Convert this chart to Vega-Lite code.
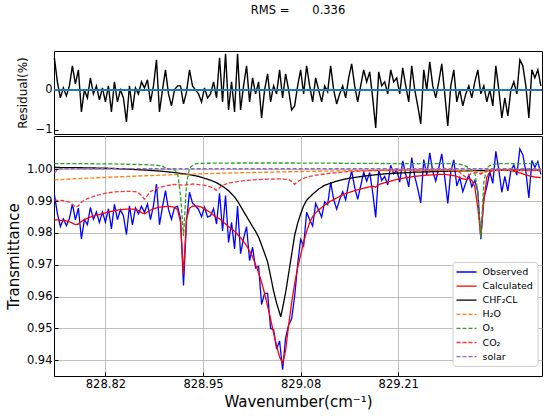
{
"$schema":"https://vega.github.io/schema/vega-lite/v6.json",
"padding":{"left":5,"right":5,"top":5,"bottom":5},
"title":{"text":"RMS =\u2003\u20030.336","font":"DejaVu Sans","fontSize":11.5,"fontWeight":"normal","color":"black","anchor":"middle","offset":34,"dx":23},
"datasets":{
"spec":[
{"wn":828.752,"obs":0.9921,"calc":0.9841,"res":0.8},
{"wn":828.756,"obs":0.9861,"calc":0.9841,"res":0.2},
{"wn":828.76,"obs":0.982,"calc":0.984,"res":-0.2},
{"wn":828.764,"obs":0.9844,"calc":0.9839,"res":0.05},
{"wn":828.768,"obs":0.9823,"calc":0.9838,"res":-0.15},
{"wn":828.772,"obs":0.9845,"calc":0.9835,"res":0.1},
{"wn":828.776,"obs":0.9891,"calc":0.9831,"res":0.6},
{"wn":828.78,"obs":0.9841,"calc":0.9826,"res":0.15},
{"wn":828.784,"obs":0.9878,"calc":0.9828,"res":0.5},
{"wn":828.788,"obs":0.9781,"calc":0.9836,"res":-0.55},
{"wn":828.792,"obs":0.9842,"calc":0.9842,"res":0},
{"wn":828.796,"obs":0.9826,"calc":0.9846,"res":-0.2},
{"wn":828.8,"obs":0.988,"calc":0.985,"res":0.3},
{"wn":828.804,"obs":0.9843,"calc":0.9853,"res":-0.1},
{"wn":828.808,"obs":0.9866,"calc":0.9856,"res":0.1},
{"wn":828.812,"obs":0.9833,"calc":0.9858,"res":-0.25},
{"wn":828.816,"obs":0.9866,"calc":0.9861,"res":0.05},
{"wn":828.82,"obs":0.9834,"calc":0.9864,"res":-0.3},
{"wn":828.824,"obs":0.9876,"calc":0.9866,"res":0.1},
{"wn":828.828,"obs":0.9813,"calc":0.9868,"res":-0.55},
{"wn":828.832,"obs":0.989,"calc":0.987,"res":0.2},
{"wn":828.836,"obs":0.9842,"calc":0.9872,"res":-0.3},
{"wn":828.84,"obs":0.9873,"calc":0.9873,"res":0},
{"wn":828.844,"obs":0.9854,"calc":0.9874,"res":-0.2},
{"wn":828.848,"obs":0.9795,"calc":0.9875,"res":-0.8},
{"wn":828.852,"obs":0.9885,"calc":0.9875,"res":0.1},
{"wn":828.856,"obs":0.9825,"calc":0.9875,"res":-0.5},
{"wn":828.86,"obs":0.9879,"calc":0.9874,"res":0.05},
{"wn":828.864,"obs":0.986,"calc":0.987,"res":-0.1},
{"wn":828.868,"obs":0.9884,"calc":0.9864,"res":0.2},
{"wn":828.872,"obs":0.9865,"calc":0.986,"res":0.05},
{"wn":828.876,"obs":0.9891,"calc":0.9866,"res":0.25},
{"wn":828.88,"obs":0.9842,"calc":0.9872,"res":-0.3},
{"wn":828.884,"obs":0.9886,"calc":0.9876,"res":0.1},
{"wn":828.888,"obs":0.9954,"calc":0.9879,"res":0.75},
{"wn":828.892,"obs":0.9826,"calc":0.9881,"res":-0.55},
{"wn":828.896,"obs":0.9882,"calc":0.9882,"res":0},
{"wn":828.9,"obs":0.9933,"calc":0.9883,"res":0.5},
{"wn":828.904,"obs":0.9874,"calc":0.9884,"res":-0.1},
{"wn":828.908,"obs":0.9843,"calc":0.9883,"res":-0.4},
{"wn":828.912,"obs":0.988,"calc":0.988,"res":0},
{"wn":828.916,"obs":0.9884,"calc":0.9874,"res":0.1},
{"wn":828.92,"obs":0.9845,"calc":0.9835,"res":0.1},
{"wn":828.924,"obs":0.9635,"calc":0.967,"res":-0.35},
{"wn":828.928,"obs":0.984,"calc":0.9845,"res":-0.05},
{"wn":828.932,"obs":0.9928,"calc":0.9878,"res":0.5},
{"wn":828.936,"obs":0.9894,"calc":0.9884,"res":0.1},
{"wn":828.94,"obs":0.9885,"calc":0.9885,"res":0},
{"wn":828.944,"obs":0.9874,"calc":0.9884,"res":-0.1},
{"wn":828.948,"obs":0.9851,"calc":0.9881,"res":-0.3},
{"wn":828.952,"obs":0.9881,"calc":0.9876,"res":0.05},
{"wn":828.956,"obs":0.985,"calc":0.987,"res":-0.2},
{"wn":828.96,"obs":0.9854,"calc":0.9864,"res":-0.1},
{"wn":828.964,"obs":0.9876,"calc":0.9856,"res":0.2},
{"wn":828.968,"obs":0.9828,"calc":0.9848,"res":-0.2},
{"wn":828.972,"obs":0.9925,"calc":0.9845,"res":0.8},
{"wn":828.976,"obs":0.9806,"calc":0.9836,"res":-0.3},
{"wn":828.98,"obs":0.9918,"calc":0.9828,"res":0.9},
{"wn":828.984,"obs":0.977,"calc":0.982,"res":-0.5},
{"wn":828.988,"obs":0.9833,"calc":0.9813,"res":0.2},
{"wn":828.992,"obs":0.975,"calc":0.9805,"res":-0.55},
{"wn":828.996,"obs":0.9885,"calc":0.9795,"res":0.9},
{"wn":829.0,"obs":0.9735,"calc":0.9785,"res":-0.5},
{"wn":829.004,"obs":0.9783,"calc":0.9773,"res":0.1},
{"wn":829.008,"obs":0.982,"calc":0.976,"res":0.6},
{"wn":829.012,"obs":0.9713,"calc":0.9743,"res":-0.3},
{"wn":829.016,"obs":0.9755,"calc":0.9725,"res":0.3},
{"wn":829.02,"obs":0.969,"calc":0.97,"res":-0.1},
{"wn":829.024,"obs":0.9695,"calc":0.9675,"res":0.2},
{"wn":829.028,"obs":0.9575,"calc":0.9645,"res":-0.7},
{"wn":829.032,"obs":0.961,"calc":0.961,"res":0},
{"wn":829.036,"obs":0.961,"calc":0.957,"res":0.4},
{"wn":829.04,"obs":0.95,"calc":0.953,"res":-0.3},
{"wn":829.044,"obs":0.9495,"calc":0.9485,"res":0.1},
{"wn":829.048,"obs":0.9435,"calc":0.9445,"res":-0.1},
{"wn":829.052,"obs":0.946,"calc":0.941,"res":0.5},
{"wn":829.056,"obs":0.937,"calc":0.939,"res":-0.2},
{"wn":829.06,"obs":0.947,"calc":0.943,"res":0.4},
{"wn":829.064,"obs":0.951,"calc":0.951,"res":0},
{"wn":829.068,"obs":0.953,"calc":0.958,"res":-0.5},
{"wn":829.072,"obs":0.96,"calc":0.964,"res":-0.4},
{"wn":829.076,"obs":0.97,"calc":0.969,"res":0.1},
{"wn":829.08,"obs":0.978,"calc":0.973,"res":0.5},
{"wn":829.084,"obs":0.976,"calc":0.977,"res":-0.1},
{"wn":829.088,"obs":0.9865,"calc":0.9805,"res":0.6},
{"wn":829.092,"obs":0.9842,"calc":0.9832,"res":0.1},
{"wn":829.096,"obs":0.9822,"calc":0.9852,"res":-0.3},
{"wn":829.1,"obs":0.9893,"calc":0.9863,"res":0.3},
{"wn":829.104,"obs":0.9872,"calc":0.9872,"res":0},
{"wn":829.108,"obs":0.985,"calc":0.988,"res":-0.3},
{"wn":829.112,"obs":0.9898,"calc":0.9888,"res":0.1},
{"wn":829.116,"obs":0.9889,"calc":0.9894,"res":-0.05},
{"wn":829.12,"obs":0.996,"calc":0.99,"res":0.6},
{"wn":829.124,"obs":0.9905,"calc":0.9905,"res":0},
{"wn":829.128,"obs":0.9875,"calc":0.991,"res":-0.35},
{"wn":829.132,"obs":0.9905,"calc":0.9915,"res":-0.1},
{"wn":829.136,"obs":0.993,"calc":0.992,"res":0.1},
{"wn":829.14,"obs":0.9904,"calc":0.9924,"res":-0.2},
{"wn":829.144,"obs":0.9957,"calc":0.9927,"res":0.3},
{"wn":829.148,"obs":0.9995,"calc":0.993,"res":0.65},
{"wn":829.152,"obs":0.9943,"calc":0.9933,"res":0.1},
{"wn":829.156,"obs":0.9906,"calc":0.9936,"res":-0.3},
{"wn":829.16,"obs":0.9948,"calc":0.9938,"res":0.1},
{"wn":829.164,"obs":0.9991,"calc":0.9941,"res":0.5},
{"wn":829.168,"obs":0.9963,"calc":0.9943,"res":0.2},
{"wn":829.172,"obs":0.999,"calc":0.9945,"res":0.45},
{"wn":829.176,"obs":0.9927,"calc":0.9947,"res":-0.2},
{"wn":829.18,"obs":0.9849,"calc":0.9944,"res":-0.95},
{"wn":829.184,"obs":0.9997,"calc":0.9952,"res":0.45},
{"wn":829.188,"obs":0.9965,"calc":0.9955,"res":0.1},
{"wn":829.192,"obs":0.9978,"calc":0.9958,"res":0.2},
{"wn":829.196,"obs":0.9951,"calc":0.9961,"res":-0.1},
{"wn":829.2,"obs":1.0013,"calc":0.9963,"res":0.5},
{"wn":829.204,"obs":0.9986,"calc":0.9966,"res":0.2},
{"wn":829.208,"obs":0.9998,"calc":0.9968,"res":0.3},
{"wn":829.212,"obs":0.996,"calc":0.997,"res":-0.1},
{"wn":829.216,"obs":1.0027,"calc":0.9972,"res":0.55},
{"wn":829.22,"obs":0.9984,"calc":0.9974,"res":0.1},
{"wn":829.224,"obs":0.9945,"calc":0.9975,"res":-0.3},
{"wn":829.228,"obs":1.0037,"calc":0.9977,"res":0.6},
{"wn":829.232,"obs":0.9978,"calc":0.9978,"res":0},
{"wn":829.236,"obs":0.9939,"calc":0.9979,"res":-0.4},
{"wn":829.24,"obs":0.9895,"calc":0.998,"res":-0.85},
{"wn":829.244,"obs":1.0031,"calc":0.9981,"res":0.5},
{"wn":829.248,"obs":0.9982,"calc":0.9982,"res":0},
{"wn":829.252,"obs":1.0052,"calc":0.9982,"res":0.7},
{"wn":829.256,"obs":0.9993,"calc":0.9983,"res":0.1},
{"wn":829.26,"obs":0.9963,"calc":0.9983,"res":-0.2},
{"wn":829.264,"obs":1.0004,"calc":0.9984,"res":0.2},
{"wn":829.268,"obs":1.0049,"calc":0.9984,"res":0.65},
{"wn":829.272,"obs":0.9974,"calc":0.9984,"res":-0.1},
{"wn":829.276,"obs":0.9893,"calc":0.9983,"res":-0.9},
{"wn":829.28,"obs":0.9992,"calc":0.9982,"res":0.1},
{"wn":829.284,"obs":1.003,"calc":0.998,"res":0.5},
{"wn":829.288,"obs":0.9948,"calc":0.9978,"res":-0.3},
{"wn":829.292,"obs":0.9974,"calc":0.9974,"res":0},
{"wn":829.296,"obs":0.993,"calc":0.997,"res":-0.4},
{"wn":829.3,"obs":0.9958,"calc":0.9968,"res":-0.1},
{"wn":829.304,"obs":0.9982,"calc":0.9972,"res":0.1},
{"wn":829.308,"obs":0.9945,"calc":0.9965,"res":-0.2},
{"wn":829.312,"obs":0.9965,"calc":0.9945,"res":0.2},
{"wn":829.316,"obs":0.993,"calc":0.988,"res":0.5},
{"wn":829.32,"obs":0.978,"calc":0.979,"res":-0.1},
{"wn":829.324,"obs":0.991,"calc":0.99,"res":0.1},
{"wn":829.328,"obs":0.9945,"calc":0.9975,"res":-0.3},
{"wn":829.332,"obs":0.9992,"calc":0.9992,"res":0},
{"wn":829.336,"obs":0.9956,"calc":0.9996,"res":-0.4},
{"wn":829.34,"obs":1.0057,"calc":0.9997,"res":0.6},
{"wn":829.344,"obs":0.9998,"calc":0.9998,"res":0},
{"wn":829.348,"obs":0.9928,"calc":0.9998,"res":-0.7},
{"wn":829.352,"obs":0.9978,"calc":0.9998,"res":-0.2},
{"wn":829.356,"obs":0.9932,"calc":0.9997,"res":-0.65},
{"wn":829.36,"obs":0.9996,"calc":0.9996,"res":0},
{"wn":829.364,"obs":1.0014,"calc":0.9994,"res":0.2},
{"wn":829.368,"obs":0.9982,"calc":0.9992,"res":-0.1},
{"wn":829.372,"obs":1.0064,"calc":0.9989,"res":0.75},
{"wn":829.376,"obs":1.0046,"calc":0.9986,"res":0.6},
{"wn":829.38,"obs":0.9993,"calc":0.9983,"res":0.1},
{"wn":829.384,"obs":0.991,"calc":0.998,"res":-0.7},
{"wn":829.388,"obs":1.0028,"calc":0.9978,"res":0.5},
{"wn":829.392,"obs":1.0006,"calc":0.9976,"res":0.3},
{"wn":829.396,"obs":1.0025,"calc":0.9975,"res":0.5},
{"wn":829.4,"obs":0.9984,"calc":0.9974,"res":0.1}
],
"chf":[
{"wn":828.752,"chf":1.0006},{"wn":828.792,"chf":1.0005},{"wn":828.832,"chf":1.0003},{"wn":828.872,"chf":0.9998},
{"wn":828.896,"chf":0.9994},{"wn":828.912,"chf":0.999},{"wn":828.928,"chf":0.9985},{"wn":828.944,"chf":0.9978},
{"wn":828.96,"chf":0.9966},{"wn":828.968,"chf":0.9958},{"wn":828.976,"chf":0.9947},{"wn":828.984,"chf":0.9933},
{"wn":828.992,"chf":0.9913},{"wn":828.996,"chf":0.99},{"wn":829.0,"chf":0.9884},{"wn":829.004,"chf":0.9868},
{"wn":829.008,"chf":0.9852},{"wn":829.012,"chf":0.9836},{"wn":829.016,"chf":0.982},{"wn":829.02,"chf":0.9805},
{"wn":829.024,"chf":0.9787},{"wn":829.028,"chf":0.9762},{"wn":829.032,"chf":0.9736},{"wn":829.036,"chf":0.9709},
{"wn":829.04,"chf":0.9664},{"wn":829.044,"chf":0.9617},{"wn":829.048,"chf":0.9579},{"wn":829.052,"chf":0.9548},
{"wn":829.0535,"chf":0.9536},{"wn":829.056,"chf":0.9564},{"wn":829.06,"chf":0.9612},{"wn":829.064,"chf":0.9672},
{"wn":829.068,"chf":0.9732},{"wn":829.072,"chf":0.9792},{"wn":829.076,"chf":0.983},{"wn":829.08,"chf":0.986},
{"wn":829.084,"chf":0.9885},{"wn":829.088,"chf":0.9903},{"wn":829.096,"chf":0.9922},{"wn":829.104,"chf":0.9938},
{"wn":829.112,"chf":0.995},{"wn":829.128,"chf":0.9963},{"wn":829.144,"chf":0.9972},{"wn":829.168,"chf":0.998},
{"wn":829.192,"chf":0.9986},{"wn":829.232,"chf":0.9991},{"wn":829.272,"chf":0.9994},{"wn":829.312,"chf":0.9996},
{"wn":829.352,"chf":0.9997},{"wn":829.4,"chf":0.9998}
],
"comp":[
{"s":"h2o","wn":828.752,"t":0.9967},{"s":"h2o","wn":828.792,"t":0.9972},{"s":"h2o","wn":828.832,"t":0.9976},
{"s":"h2o","wn":828.872,"t":0.998},{"s":"h2o","wn":828.916,"t":0.9984},{"s":"h2o","wn":828.992,"t":0.9989},
{"s":"h2o","wn":829.072,"t":0.9993},{"s":"h2o","wn":829.152,"t":0.9996},{"s":"h2o","wn":829.272,"t":0.9997},
{"s":"h2o","wn":829.312,"t":0.9995},{"s":"h2o","wn":829.32,"t":0.9988},{"s":"h2o","wn":829.328,"t":0.9997},
{"s":"h2o","wn":829.4,"t":0.9998},
{"s":"o3","wn":828.752,"t":1.0018},{"s":"o3","wn":828.792,"t":1.0018},{"s":"o3","wn":828.832,"t":1.0017},
{"s":"o3","wn":828.872,"t":1.0015},{"s":"o3","wn":828.888,"t":1.0013},{"s":"o3","wn":828.896,"t":1.001},
{"s":"o3","wn":828.9,"t":1.0004},{"s":"o3","wn":828.904,"t":1.0},{"s":"o3","wn":828.908,"t":1.0001},
{"s":"o3","wn":828.912,"t":0.9998},{"s":"o3","wn":828.916,"t":0.999},{"s":"o3","wn":828.92,"t":0.992},
{"s":"o3","wn":828.924,"t":0.979},{"s":"o3","wn":828.928,"t":0.9955},{"s":"o3","wn":828.932,"t":1.0004},
{"s":"o3","wn":828.936,"t":1.0012},{"s":"o3","wn":828.94,"t":1.0017},{"s":"o3","wn":828.944,"t":1.0019},
{"s":"o3","wn":828.992,"t":1.002},{"s":"o3","wn":829.072,"t":1.002},{"s":"o3","wn":829.152,"t":1.0019},
{"s":"o3","wn":829.232,"t":1.0018},{"s":"o3","wn":829.288,"t":1.0018},{"s":"o3","wn":829.296,"t":1.0014},
{"s":"o3","wn":829.3,"t":1.001},{"s":"o3","wn":829.304,"t":1.0005},{"s":"o3","wn":829.308,"t":0.9998},
{"s":"o3","wn":829.312,"t":0.999},{"s":"o3","wn":829.316,"t":0.993},{"s":"o3","wn":829.32,"t":0.9784},
{"s":"o3","wn":829.324,"t":0.996},{"s":"o3","wn":829.328,"t":1.0005},{"s":"o3","wn":829.332,"t":1.0012},
{"s":"o3","wn":829.336,"t":1.0016},{"s":"o3","wn":829.344,"t":1.0018},{"s":"o3","wn":829.4,"t":1.0018},
{"s":"co2","wn":828.752,"t":0.9903},{"s":"co2","wn":828.764,"t":0.9902},{"s":"co2","wn":828.772,"t":0.9897},
{"s":"co2","wn":828.776,"t":0.989},{"s":"co2","wn":828.78,"t":0.9882},{"s":"co2","wn":828.784,"t":0.9885},
{"s":"co2","wn":828.788,"t":0.9897},{"s":"co2","wn":828.796,"t":0.9908},{"s":"co2","wn":828.808,"t":0.9918},
{"s":"co2","wn":828.82,"t":0.9925},{"s":"co2","wn":828.832,"t":0.9929},{"s":"co2","wn":828.848,"t":0.9931},
{"s":"co2","wn":828.86,"t":0.993},{"s":"co2","wn":828.864,"t":0.9926},{"s":"co2","wn":828.868,"t":0.9918},
{"s":"co2","wn":828.872,"t":0.9906},{"s":"co2","wn":828.876,"t":0.9918},{"s":"co2","wn":828.88,"t":0.993},
{"s":"co2","wn":828.888,"t":0.994},{"s":"co2","wn":828.9,"t":0.9948},{"s":"co2","wn":828.912,"t":0.9953},
{"s":"co2","wn":828.924,"t":0.995},{"s":"co2","wn":828.936,"t":0.9954},{"s":"co2","wn":828.952,"t":0.995},
{"s":"co2","wn":828.96,"t":0.9945},{"s":"co2","wn":828.964,"t":0.994},{"s":"co2","wn":828.968,"t":0.9934},
{"s":"co2","wn":828.972,"t":0.9942},{"s":"co2","wn":828.976,"t":0.995},{"s":"co2","wn":828.984,"t":0.9957},
{"s":"co2","wn":829.0,"t":0.9963},{"s":"co2","wn":829.016,"t":0.9967},{"s":"co2","wn":829.032,"t":0.9969},
{"s":"co2","wn":829.052,"t":0.997},{"s":"co2","wn":829.064,"t":0.9968},{"s":"co2","wn":829.068,"t":0.9962},
{"s":"co2","wn":829.072,"t":0.9953},{"s":"co2","wn":829.076,"t":0.9962},{"s":"co2","wn":829.084,"t":0.9972},
{"s":"co2","wn":829.092,"t":0.9978},{"s":"co2","wn":829.104,"t":0.9983},{"s":"co2","wn":829.12,"t":0.9988},
{"s":"co2","wn":829.144,"t":0.9993},{"s":"co2","wn":829.184,"t":0.9997},{"s":"co2","wn":829.232,"t":0.9998},
{"s":"co2","wn":829.28,"t":0.9998},{"s":"co2","wn":829.288,"t":0.9996},{"s":"co2","wn":829.292,"t":0.999},
{"s":"co2","wn":829.296,"t":0.9982},{"s":"co2","wn":829.3,"t":0.9976},{"s":"co2","wn":829.304,"t":0.9982},
{"s":"co2","wn":829.308,"t":0.9988},{"s":"co2","wn":829.316,"t":0.999},{"s":"co2","wn":829.32,"t":0.9985},
{"s":"co2","wn":829.324,"t":0.9992},{"s":"co2","wn":829.332,"t":0.9996},{"s":"co2","wn":829.352,"t":0.9997},
{"s":"co2","wn":829.4,"t":0.9996},
{"s":"solar","wn":828.752,"t":0.9988},{"s":"solar","wn":828.756,"t":0.9999},{"s":"solar","wn":828.76,"t":1.0002},
{"s":"solar","wn":829.4,"t":1.0002}
]
},
"spacing":2,
"bounds":"flush",
"vconcat":[
{
"width":488,"height":83,
"layer":[
{"data":{"name":"spec"},"mark":{"type":"line","color":"black","strokeWidth":1.4},
"encoding":{
"x":{"field":"wn","type":"quantitative","scale":{"domain":[828.7515,829.4015],"nice":false,"zero":false},"axis":null},
"y":{"field":"res","type":"quantitative","scale":{"domain":[-1.1,0.97],"nice":false,"zero":false},
"axis":{"title":"Residual(%)","values":[-1,0],"format":"d","grid":false,"titleFontSize":12,"labelFontSize":11.5,"titlePadding":6}}}},
{"data":{"values":[{}]},"mark":{"type":"rule","color":"#1f77b4","strokeWidth":2},"encoding":{"y":{"datum":0}}}
]
},
{
"width":488,"height":240,
"encoding":{
"x":{"field":"wn","type":"quantitative","scale":{"domain":[828.7515,829.4015],"nice":false,"zero":false},
"axis":{"title":"Wavenumber(cm\u207b\u00b9)","values":[828.82,828.95,829.08,829.21],"format":".2f","grid":true,"titleFontSize":15,"labelFontSize":11.5,"titlePadding":5}},
"y":{"field":"t","type":"quantitative","scale":{"domain":[0.935,1.0105],"nice":false,"zero":false},
"axis":{"title":"Transmittance","values":[0.94,0.95,0.96,0.97,0.98,0.99,1.0],"format":".2f","grid":true,"titleFontSize":15,"labelFontSize":11.5,"titlePadding":5}},
"color":{"field":"s","type":"nominal",
"scale":{"domain":["obs","calc","chf","h2o","o3","co2","solar"],"range":["#0000ff","#ff0000","#000000","#ff7f0e","#2ca02c","#ff3333","#9467bd"]},
"legend":{"title":null,"orient":"none","legendX":398.5,"legendY":211,"symbolType":"M-2,0H2","symbolSize":100,"symbolOffset":4,"labelOffset":10,"labelFontSize":9.5,"fillColor":"white","strokeColor":"#cccccc","cornerRadius":3,"padding":4,"rowPadding":3.1,
"labelExpr":"datum.label=='obs'?'Observed':datum.label=='calc'?'Calculated':datum.label=='chf'?'CHF\u2082CL':datum.label=='h2o'?'H\u2082O':datum.label=='o3'?'O\u2083':datum.label=='co2'?'CO\u2082':'solar'"}},
"strokeDash":{"field":"s","type":"nominal",
"scale":{"domain":["obs","calc","chf","h2o","o3","co2","solar"],"range":[[1,0],[1,0],[1,0],[4,2],[4,2],[4,2],[4,2]]},
"legend":{"title":null,"orient":"none","legendX":398.5,"legendY":211,"symbolType":"M-2,0H2","symbolSize":100,"symbolOffset":4,"labelOffset":10,"labelFontSize":9.5,"fillColor":"white","strokeColor":"#cccccc","cornerRadius":3,"padding":4,"rowPadding":3.1,
"labelExpr":"datum.label=='obs'?'Observed':datum.label=='calc'?'Calculated':datum.label=='chf'?'CHF\u2082CL':datum.label=='h2o'?'H\u2082O':datum.label=='o3'?'O\u2083':datum.label=='co2'?'CO\u2082':'solar'"}},
"strokeWidth":{"field":"s","type":"nominal",
"scale":{"domain":["obs","calc","chf","h2o","o3","co2","solar"],"range":[1.3,1.3,2.6,1.2,1.2,1.2,1.2]},
"legend":{"title":null,"orient":"none","legendX":398.5,"legendY":211,"symbolType":"M-2,0H2","symbolSize":100,"symbolOffset":4,"labelOffset":10,"labelFontSize":9.5,"fillColor":"white","strokeColor":"#cccccc","cornerRadius":3,"padding":4,"rowPadding":3.1,
"labelExpr":"datum.label=='obs'?'Observed':datum.label=='calc'?'Calculated':datum.label=='chf'?'CHF\u2082CL':datum.label=='h2o'?'H\u2082O':datum.label=='o3'?'O\u2083':datum.label=='co2'?'CO\u2082':'solar'"}}
},
"layer":[
{"data":{"name":"spec"},"transform":[{"fold":["obs"],"as":["s","t"]}],"mark":{"type":"line"}},
{"data":{"name":"spec"},"transform":[{"fold":["calc"],"as":["s","t"]}],"mark":{"type":"line"}},
{"data":{"name":"chf"},"transform":[{"fold":["chf"],"as":["s","t"]}],"mark":{"type":"line"}},
{"data":{"name":"comp"},"mark":{"type":"line"}}
]
}
],
"config":{
"font":"DejaVu Sans",
"view":{"stroke":"black","strokeWidth":1},
"axis":{"labelFont":"DejaVu Sans","titleFont":"DejaVu Sans","labelColor":"black","titleColor":"black","titleFontWeight":"normal","domain":false,"tickColor":"black","tickSize":-4,"labelPadding":6,"gridColor":"#b0b0b0","gridWidth":0.8},
"legend":{"labelFont":"DejaVu Sans","labelColor":"black"}
}
}
